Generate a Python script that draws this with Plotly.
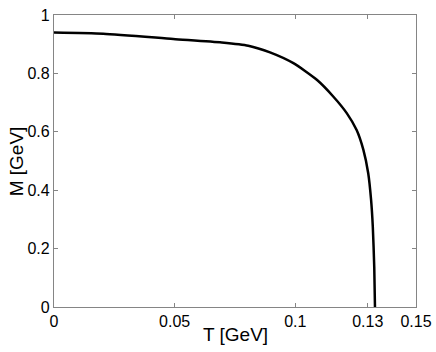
import plotly.graph_objects as go

T_vals = [0.0, 0.0204, 0.0494, 0.0695, 0.0805, 0.0895, 0.0992, 0.1089, 0.1157,
          0.1213, 0.1254, 0.1282, 0.1302, 0.1314, 0.1321, 0.1327, 0.1330]
M_vals = [0.940, 0.936, 0.918, 0.906, 0.895, 0.872, 0.835, 0.778, 0.721,
          0.664, 0.606, 0.538, 0.458, 0.366, 0.275, 0.137, 0.0]

x_ticks = [0, 0.05, 0.1, 0.13, 0.15]
x_tick_text = ["0", "0.05", "0.1", "0.13", "0.15"]
y_ticks = [0, 0.2, 0.4, 0.6, 0.8, 1]
y_tick_text = ["0", "0.2", "0.4", "0.6", "0.8", "1"]

FONT = "Liberation Sans, Arial, Helvetica"

fig = go.Figure()
fig.add_trace(go.Scatter(x=T_vals, y=M_vals, mode="lines",
                         line=dict(color="black", width=2.5, shape="spline", smoothing=0.6),
                         showlegend=False, hoverinfo="skip"))

axis_common = dict(showgrid=False, zeroline=False, showline=True, linecolor="#858585",
                   linewidth=1.2, mirror="ticks", ticks="inside", ticklen=4,
                   tickcolor="#858585", automargin=False,
                   tickfont=dict(size=16, color="black", family=FONT))

fig.update_layout(
    width=436, height=352,
    margin=dict(l=54, r=20, t=15, b=45, autoexpand=False),
    paper_bgcolor="white", plot_bgcolor="white",
    font=dict(family=FONT, color="black"),
    xaxis=dict(range=[0, 0.15], tickvals=x_ticks, ticktext=x_tick_text, **axis_common),
    yaxis=dict(range=[0, 1], tickvals=y_ticks, ticktext=y_tick_text, **axis_common),
    annotations=[
        dict(text="T [GeV]", xref="paper", yref="paper", x=0.5, y=-0.094,
             xanchor="center", yanchor="middle", showarrow=False,
             font=dict(size=19, color="black", family=FONT)),
        dict(text="M [GeV]", xref="paper", yref="paper", x=-0.104, y=0.5,
             xanchor="center", yanchor="middle", showarrow=False, textangle=-90,
             font=dict(size=19, color="black", family=FONT)),
    ],
)

fig.write_html("out.html", config={"displayModeBar": False},
               post_script="document.body.style.margin='0';document.body.style.overflow='hidden';")
